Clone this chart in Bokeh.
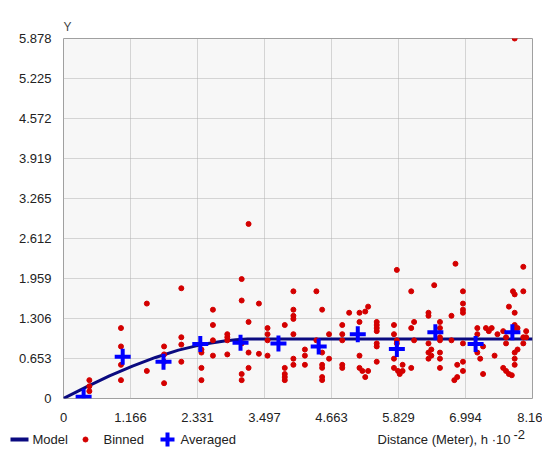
from bokeh.plotting import figure
from bokeh.layouts import column
from bokeh.models import FixedTicker, Range1d
from bokeh.core.properties import value
from bokeh.embed import file_html
from bokeh.resources import INLINE

x_ticks = [0, 1.166, 2.331, 3.497, 4.663, 5.829, 6.994, 8.16]
y_ticks = [0, 0.653, 1.306, 1.959, 2.612, 3.265, 3.919, 4.572, 5.225, 5.878]

model_x = [0, 0.4, 0.8, 1.2, 1.6, 2.0, 2.4, 2.8, 3.0, 3.2, 4.0, 5.0, 6.0, 7.0, 8.16]
model_y = [0, 0.19, 0.37, 0.53, 0.67, 0.79, 0.88, 0.94, 0.96, 0.97, 0.97, 0.97, 0.97, 0.97, 0.97]

avg_x = [0.35, 1.03, 1.74, 2.38, 3.08, 3.74, 4.44, 5.12, 5.80, 6.47, 7.17, 7.81]
avg_y = [0.03, 0.68, 0.60, 0.89, 0.91, 0.90, 0.85, 1.05, 0.81, 1.08, 0.89, 1.08]

bin_x = [0.45, 0.45, 0.45, 1.0, 1.0, 1.0, 1.0, 1.45, 1.45, 1.75, 1.75, 1.75, 1.75,
         2.05, 2.05, 2.05, 2.05, 2.4, 2.4, 2.4, 2.4, 2.6, 2.6, 2.6, 2.6,
         2.85, 2.85, 2.85, 2.85, 3.1, 3.1, 3.1, 3.1, 3.1, 3.22, 3.22, 3.22, 3.22,
         3.4, 3.4, 3.55, 3.55, 3.55, 3.55, 3.85, 3.85, 3.85, 3.85, 3.85,
         4.0, 4.0, 4.0, 4.0, 4.0, 4.0, 4.0, 4.2, 4.2, 4.2, 4.4, 4.4,
         4.5, 4.5, 4.5, 4.5, 4.5, 4.5, 4.62, 4.62, 4.85, 4.85, 4.85, 4.85, 4.85, 4.97,
         5.15, 5.15, 5.15, 5.15, 5.2, 5.25, 5.3, 5.3, 5.25,
         5.45, 5.45, 5.45, 5.45, 5.45, 5.45, 5.45,
         5.75, 5.75, 5.75, 5.75, 5.8, 5.8, 5.8, 5.82, 5.85, 5.9, 5.9,
         6.05, 6.05, 6.05, 6.1, 6.1,
         6.35, 6.35, 6.35, 6.35, 6.35, 6.4, 6.45, 6.4,
         6.55, 6.55, 6.55, 6.55, 6.55, 6.55, 6.55,
         6.75, 6.75, 6.8, 6.82, 6.85, 6.85,
         6.95, 6.95, 6.95, 6.95, 6.95, 6.95, 6.95,
         7.2, 7.2, 7.25, 7.2, 7.3, 7.3, 7.35, 7.4, 7.45, 7.5, 7.55,
         7.7, 7.7, 7.75, 7.65, 7.65, 7.7, 7.75, 7.8,
         7.85, 7.85, 7.85, 7.85, 7.85, 7.85, 7.85, 7.9, 7.9, 7.82,
         8.0, 8.0, 8.0, 8.0, 8.05, 8.05, 7.85]
bin_y = [0.3, 0.2, 0.12, 1.15, 0.85, 0.55, 0.3, 1.55, 0.45, 0.85, 0.72, 0.25, 0.6,
         1.8, 1.0, 0.88, 0.6, 0.75, 0.5, 0.3, 0.8, 1.45, 1.2, 0.95, 0.7,
         0.95, 1.0, 0.72, 1.05, 1.95, 1.6, 0.4, 0.3, 0.9, 2.85, 1.25, 0.5, 0.75,
         1.55, 0.73, 1.15, 1.05, 0.7, 0.95, 1.2, 0.5, 0.4, 0.35, 0.3,
         1.75, 1.45, 1.35, 1.3, 1.05, 0.65, 0.55, 0.8, 0.7, 0.55, 1.75, 0.95,
         1.45, 0.55, 0.5, 0.35, 0.75, 0.3, 0.65, 1.05, 1.2, 1.05, 0.55, 0.5, 0.95, 1.4,
         1.4, 1.25, 0.7, 0.5, 0.45, 0.35, 0.45, 1.5, 1.42,
         1.25, 1.2, 1.15, 1.1, 0.9, 0.85, 0.6,
         1.2, 1.05, 0.65, 0.5, 2.1, 0.95, 0.9, 0.45, 0.4, 0.45, 0.55,
         1.75, 1.15, 0.5, 1.25, 0.95,
         1.4, 1.35, 0.9, 0.75, 0.65, 0.8, 1.85, 0.7,
         1.25, 1.15, 0.95, 0.75, 0.65, 0.5, 1.0,
         1.35, 0.95, 0.3, 2.2, 0.55, 0.35,
         1.75, 1.55, 1.45, 1.4, 0.9, 0.6, 0.45,
         1.15, 0.75, 0.65, 1.05, 0.4, 0.85, 1.15, 1.1, 1.15, 0.7, 1.05,
         1.0, 0.9, 1.5, 1.1, 0.5, 0.45, 0.4, 0.38,
         1.7, 1.4, 1.2, 1.15, 0.75, 0.65, 0.55, 0.8, 1.15, 1.75,
         2.15, 1.75, 1.0, 0.9, 1.1, 1.0, 5.878]

FONT = "Liberation Sans"

p = figure(width=542, height=424, output_backend="svg", toolbar_location=None,
           x_range=Range1d(0, 8.16), y_range=Range1d(0, 5.878), title="Y",
           min_border_left=63, min_border_right=10, min_border_top=38, min_border_bottom=22)
p.frame_align = False
p.title.text_font = FONT
p.title.text_font_size = "12px"
p.title.text_font_style = "normal"
p.title.align = "left"
p.title.offset = 0
p.background_fill_color = "#f7f7f7"
p.outline_line_color = "#a0a0a0"

for ax, ticks in ((p.xaxis, x_ticks), (p.yaxis, y_ticks)):
    ax.ticker = FixedTicker(ticks=ticks)
    ax.axis_line_color = None
    ax.major_tick_line_color = None
    ax.minor_tick_line_color = None
    ax.major_label_text_font = FONT
    ax.major_label_text_font_size = "13px"
    ax.major_label_text_color = "#222222"
p.xaxis.major_label_standoff = 8
p.yaxis.major_label_standoff = 6
p.grid.grid_line_color = "#b0b0b0"
p.grid.grid_line_dash = "1 1"

p.line(model_x, model_y, line_color="#0a0a80", line_width=3)
p.scatter(bin_x, bin_y, size=5, color="#d40000", marker="circle")
p.scatter(avg_x, avg_y, size=16, marker="cross", line_color="#0000ff", line_width=4)

# legend strip under the chart, in pixel units
s = figure(width=542, height=25, output_backend="svg", toolbar_location=None,
           x_range=Range1d(0, 542), y_range=Range1d(0, 25), min_border=0)
s.frame_align = False
s.axis.visible = False
s.grid.visible = False
s.outline_line_color = None
s.line([10, 28], [10, 10], line_color="#0a0a80", line_width=4)
s.scatter([85], [10], size=5, color="#d40000")
s.scatter([167], [10], size=14, marker="cross", line_color="#0000ff", line_width=4)
s.text([32, 103, 180, 377], [10, 10, 10, 10],
       text=["Model", "Binned", "Averaged", "Distance (Meter), h \u00b710"],
       text_font=value(FONT), text_font_size="13px", text_baseline="middle",
       text_color="#222222")
s.text([513], [15], text=["-2"], text_font=value(FONT), text_font_size="13px",
       text_baseline="middle", text_color="#222222")

open("out.html", "w").write(file_html(column(p, s, spacing=0), INLINE))
